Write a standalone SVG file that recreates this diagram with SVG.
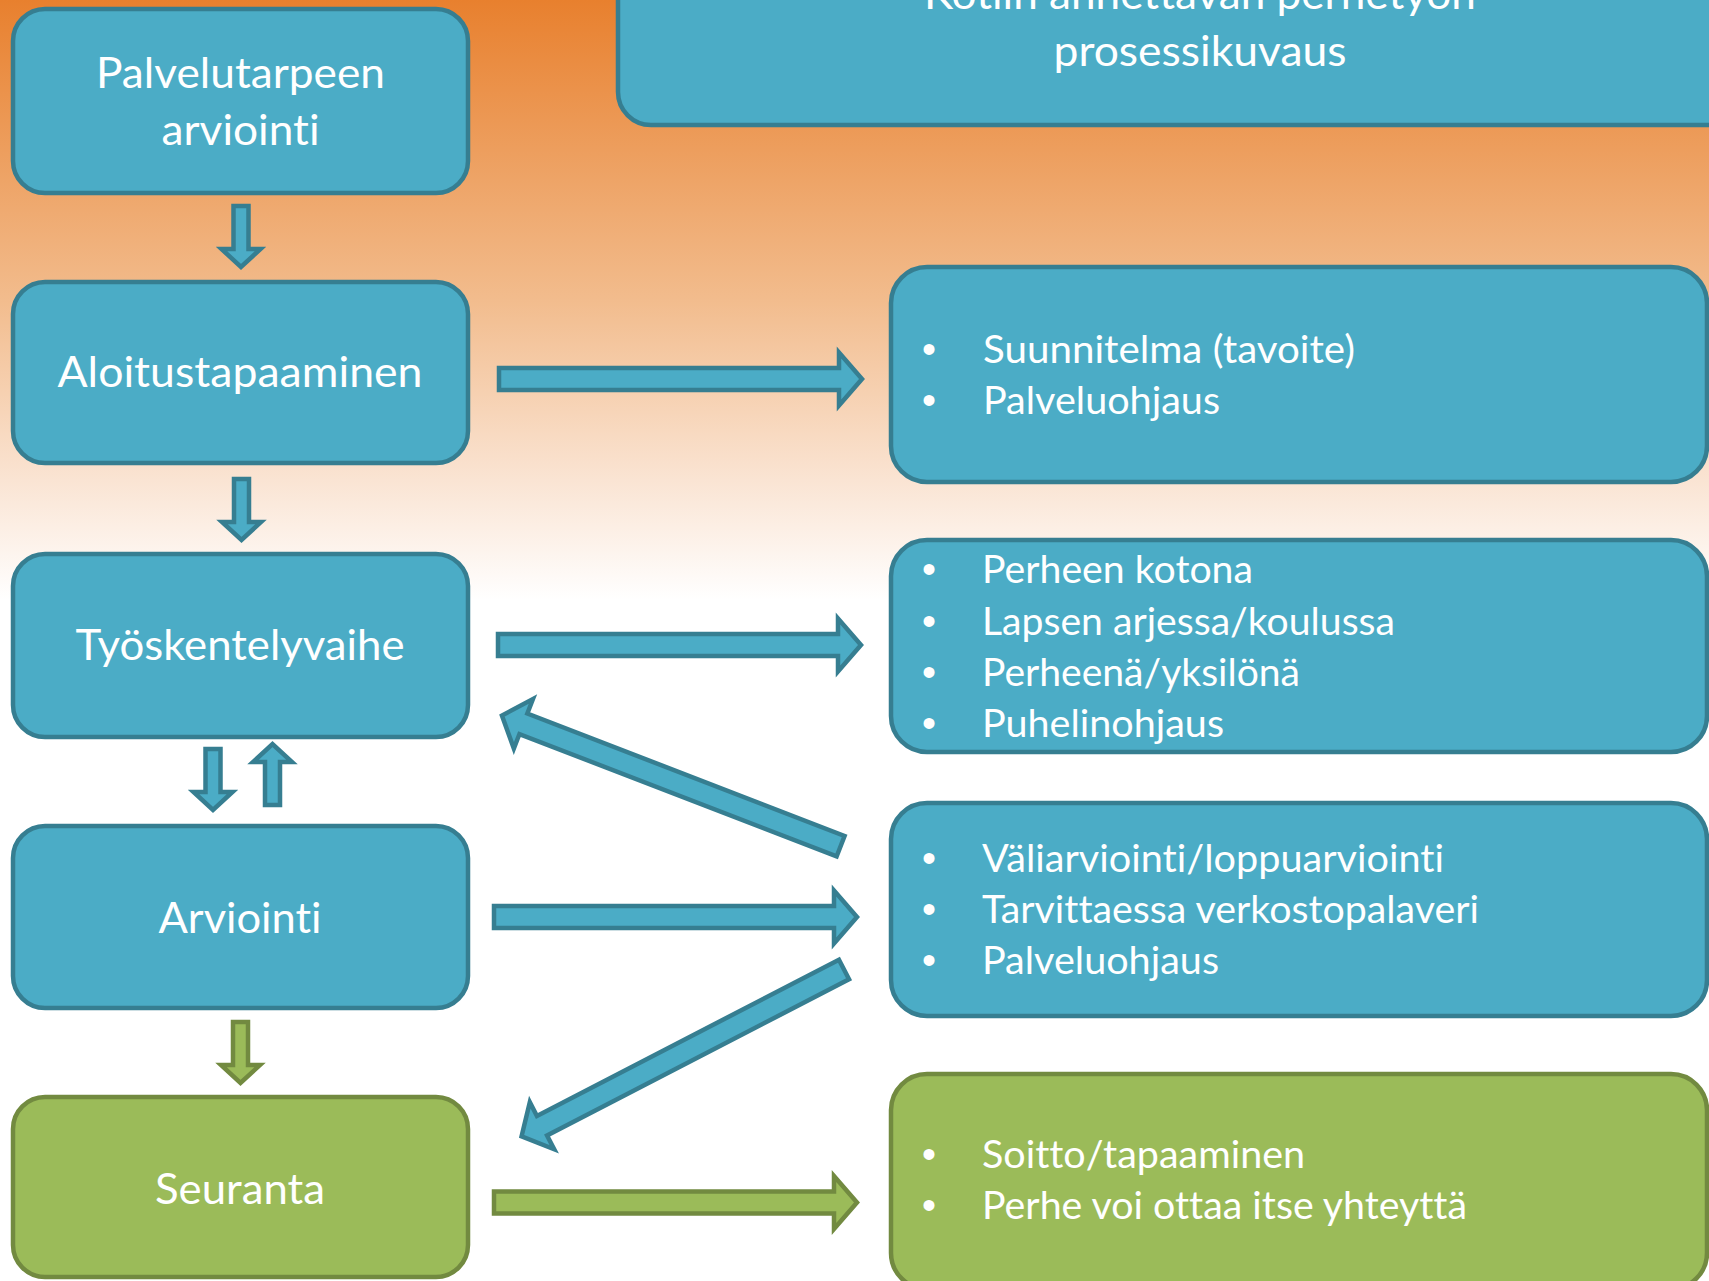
<svg xmlns="http://www.w3.org/2000/svg" width="1709" height="1281" viewBox="0 0 1709 1281">
  <defs>
    <linearGradient id="bg" gradientUnits="userSpaceOnUse" x1="0" y1="0" x2="0" y2="600">
      <stop offset="0" stop-color="#E8802E"/>
      <stop offset="0.5" stop-color="#F2BC8D"/>
      <stop offset="0.8" stop-color="#FAE4D3"/>
      <stop offset="1" stop-color="#FFFFFF"/>
    </linearGradient>
    <path id="hArrow" d="M0,-11 H340 V-26.5 L363,0 L340,26.5 V11 H0 Z"/>
    <path id="vArrow" d="M-7.5,0 H7.5 V43 H19.5 L0,61 L-19.5,43 H-7.5 Z"/>
  </defs>
  <style>
    .blue { fill: #4BACC6; stroke: #367E91; stroke-width: 4.5; }
    .green { fill: #9BBB59; stroke: #728A40; stroke-width: 4.5; }
    .conn { stroke-linejoin: miter; }
    text { font-variant-ligatures: none; }
    .lbl { font-family: Lato, "Open Sans", "Liberation Sans", sans-serif; font-size: 43px; fill: #FFFFFF; text-anchor: middle; }
    .bt { font-family: Lato, "Open Sans", "Liberation Sans", sans-serif; font-size: 38.5px; fill: #FFFFFF; }
    .dot { font-family: "Liberation Sans", Arial, sans-serif; font-size: 40px; fill: #FFFFFF; text-anchor: middle; }
  </style>

  <rect x="0" y="0" width="1709" height="1281" fill="url(#bg)"/>

  <g id="title">
    <rect class="blue" x="618" y="-70" width="1200" height="195" rx="33" ry="33"/>
    <text class="lbl" x="1200" y="9" textLength="552" lengthAdjust="spacingAndGlyphs">Kotiin annettavan perhetyön</text>
    <text class="lbl" x="1200" y="66" textLength="293" lengthAdjust="spacingAndGlyphs">prosessikuvaus</text>
  </g>

  <g id="node-palvelutarpeen">
    <rect class="blue" x="13" y="9" width="455" height="184" rx="32" ry="32"/>
    <text class="lbl" x="240.5" y="88" textLength="289" lengthAdjust="spacingAndGlyphs">Palvelutarpeen</text>
    <text class="lbl" x="240.5" y="145" textLength="158" lengthAdjust="spacingAndGlyphs">arviointi</text>
  </g>

  <g id="node-aloitus">
    <rect class="blue" x="13" y="282" width="455" height="181" rx="32" ry="32"/>
    <text class="lbl" x="240" y="387" textLength="365" lengthAdjust="spacingAndGlyphs">Aloitustapaaminen</text>
  </g>

  <g id="node-tyoskentely">
    <rect class="blue" x="13" y="554" width="455" height="183" rx="32" ry="32"/>
    <text class="lbl" x="240" y="660" textLength="329" lengthAdjust="spacingAndGlyphs">Työskentelyvaihe</text>
  </g>

  <g id="node-arviointi">
    <rect class="blue" x="13" y="826" width="455" height="182" rx="32" ry="32"/>
    <text class="lbl" x="240" y="933" textLength="163" lengthAdjust="spacingAndGlyphs">Arviointi</text>
  </g>

  <g id="node-seuranta">
    <rect class="green" x="13" y="1097" width="455" height="180" rx="32" ry="32"/>
    <text class="lbl" x="240" y="1204" textLength="170" lengthAdjust="spacingAndGlyphs">Seuranta</text>
  </g>

  <g id="node-suunnitelma">
    <rect class="blue" x="891" y="267" width="816" height="215" rx="36" ry="36"/>
    <text class="dot" x="929" y="363">•</text>
    <text class="bt" x="983" y="363" textLength="372" lengthAdjust="spacingAndGlyphs">Suunnitelma (tavoite)</text>
    <text class="dot" x="929" y="414">•</text>
    <text class="bt" x="983" y="414" textLength="237" lengthAdjust="spacingAndGlyphs">Palveluohjaus</text>
  </g>

  <g id="node-perheen">
    <rect class="blue" x="891" y="540" width="816" height="212" rx="36" ry="36"/>
    <text class="dot" x="929" y="583">•</text>
    <text class="bt" x="982" y="583" textLength="271" lengthAdjust="spacingAndGlyphs">Perheen kotona</text>
    <text class="dot" x="929" y="635">•</text>
    <text class="bt" x="982" y="635" textLength="413" lengthAdjust="spacingAndGlyphs">Lapsen arjessa/koulussa</text>
    <text class="dot" x="929" y="686">•</text>
    <text class="bt" x="982" y="686" textLength="318" lengthAdjust="spacingAndGlyphs">Perheenä/yksilönä</text>
    <text class="dot" x="929" y="737">•</text>
    <text class="bt" x="982" y="737" textLength="242" lengthAdjust="spacingAndGlyphs">Puhelinohjaus</text>
  </g>

  <g id="node-valiarviointi">
    <rect class="blue" x="891" y="803" width="816" height="213" rx="36" ry="36"/>
    <text class="dot" x="929" y="872">•</text>
    <text class="bt" x="982" y="872" textLength="462" lengthAdjust="spacingAndGlyphs">Väliarviointi/loppuarviointi</text>
    <text class="dot" x="929" y="923">•</text>
    <text class="bt" x="982" y="923" textLength="497" lengthAdjust="spacingAndGlyphs">Tarvittaessa verkostopalaveri</text>
    <text class="dot" x="929" y="974">•</text>
    <text class="bt" x="982" y="974" textLength="237" lengthAdjust="spacingAndGlyphs">Palveluohjaus</text>
  </g>

  <g id="node-soitto">
    <rect class="green" x="891" y="1074" width="816" height="215" rx="36" ry="36"/>
    <text class="dot" x="929" y="1168">•</text>
    <text class="bt" x="982" y="1168" textLength="323" lengthAdjust="spacingAndGlyphs">Soitto/tapaaminen</text>
    <text class="dot" x="929" y="1219">•</text>
    <text class="bt" x="982" y="1219" textLength="485" lengthAdjust="spacingAndGlyphs">Perhe voi ottaa itse yhteyttä</text>
  </g>

  <g id="connectors" class="conn">
    <use href="#vArrow" class="blue" transform="translate(241,206)"/>
    <use href="#vArrow" class="blue" transform="translate(241.5,479)"/>
    <use href="#vArrow" class="blue" transform="translate(213,749)"/>
    <use href="#vArrow" class="blue" transform="translate(272.5,805) rotate(180)"/>
    <use href="#vArrow" class="green" transform="translate(240.5,1022)"/>
    <use href="#hArrow" class="blue" transform="translate(499,379)"/>
    <use href="#hArrow" class="blue" transform="translate(498,645)"/>
    <use href="#hArrow" class="blue" transform="translate(494,917)"/>
    <use href="#hArrow" class="green" transform="translate(494,1202.5)"/>
    <use href="#hArrow" class="blue" transform="translate(840.6,846.2) rotate(201.1)"/>
    <use href="#hArrow" class="blue" transform="translate(844,969.5) rotate(152.65)"/>
  </g>
</svg>
